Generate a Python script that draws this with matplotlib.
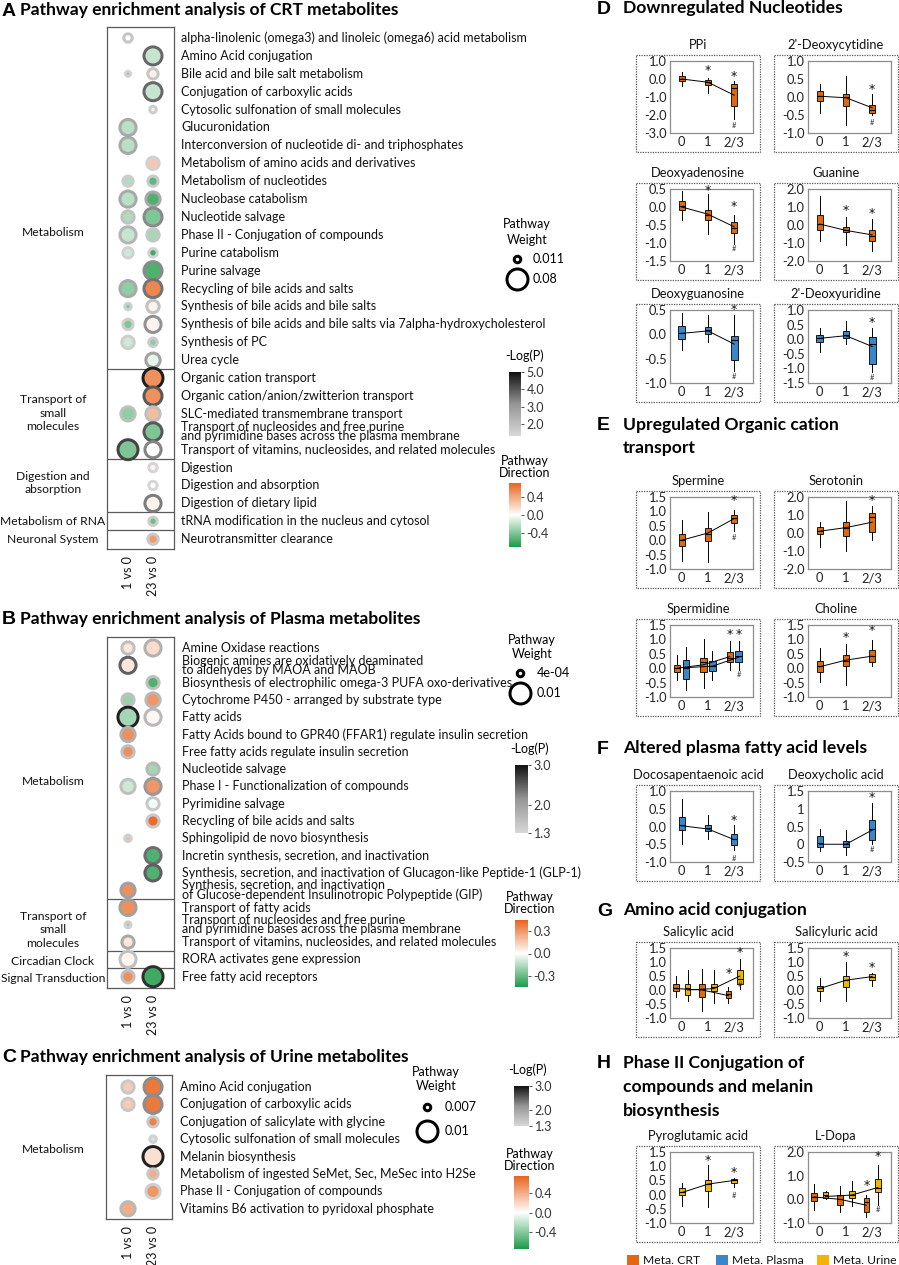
import numpy as np
import matplotlib
matplotlib.use("Agg")
import matplotlib.pyplot as plt
import matplotlib.transforms as mtransforms
from matplotlib.colors import LinearSegmentedColormap, Normalize
from matplotlib.cm import ScalarMappable
from matplotlib.patches import Rectangle

nan = np.nan
plt.rcParams['font.family'] = ['Lato', 'DejaVu Sans']

# ======================= DATA: Panel A (CRT) =======================
A_PATHWAYS = [
    "alpha-linolenic (omega3) and linoleic (omega6) acid metabolism",
    "Amino Acid conjugation",
    "Bile acid and bile salt metabolism",
    "Conjugation of carboxylic acids",
    "Cytosolic sulfonation of small molecules",
    "Glucuronidation",
    "Interconversion of nucleotide di- and triphosphates",
    "Metabolism of amino acids and derivatives",
    "Metabolism of nucleotides",
    "Nucleobase catabolism",
    "Nucleotide salvage",
    "Phase II - Conjugation of compounds",
    "Purine catabolism",
    "Purine salvage",
    "Recycling of bile acids and salts",
    "Synthesis of bile acids and bile salts",
    "Synthesis of bile acids and bile salts via 7alpha-hydroxycholesterol",
    "Synthesis of PC",
    "Urea cycle",
    "Organic cation transport",
    "Organic cation/anion/zwitterion transport",
    "SLC-mediated transmembrane transport",
    "Transport of nucleosides and free purine\nand pyrimidine bases across the plasma membrane",
    "Transport of vitamins, nucleosides, and related molecules",
    "Digestion",
    "Digestion and absorption",
    "Digestion of dietary lipid",
    "tRNA modification in the nucleus and cytosol",
    "Neurotransmitter clearance",
]
A_GROUPS = ["Metabolism", "Transport of\nsmall\nmolecules", "Digestion and\nabsorption",
            "Metabolism of RNA", "Neuronal System"]
A_GROUP_SIZES = [19, 5, 3, 1, 1]
A_W_1 = [0.020, nan, 0.004, nan, nan, 0.057, 0.057, nan, 0.029, 0.057, 0.039, 0.057, 0.029, nan,
         0.057, 0.011, 0.029, 0.039, nan, nan, nan, 0.048, nan, 0.075, nan, nan, nan, nan, nan]
A_W_23 = [nan, 0.066, 0.029, 0.066, 0.011, nan, nan, 0.039, 0.029, 0.048, 0.066, 0.039, 0.020, 0.066,
          0.066, 0.039, 0.057, 0.020, 0.048, 0.075, 0.066, 0.048, 0.066, 0.057, 0.020, 0.020, 0.057,
          0.020, 0.029]
A_P_1 = [1.8, nan, 1.5, nan, nan, 2.6, 2.6, nan, 1.6, 2.6, 1.9, 2.3, 1.5, nan, 2.6, 1.5, 1.6, 1.6,
         nan, nan, nan, 2.0, nan, 4.3, nan, nan, nan, nan, nan]
A_P_23 = [nan, 3.8, 1.8, 3.8, 1.6, nan, nan, 1.5, 1.7, 2.6, 3.3, 1.8, 1.5, 3.3, 3.6, 1.9, 3.2, 1.7,
          2.8, 4.8, 4.0, 2.0, 4.0, 3.4, 1.4, 1.35, 3.5, 1.6, 1.7]
A_D_1 = [0.0, nan, -0.4, nan, nan, -0.22, -0.22, nan, -0.25, -0.22, -0.25, -0.18, -0.15, nan, -0.35,
         -0.4, -0.4, -0.15, nan, nan, nan, -0.35, nan, -0.4, nan, nan, nan, nan, nan]
A_D_23 = [nan, -0.18, 0.05, -0.18, 0.05, nan, nan, 0.25, -0.5, -0.55, -0.4, -0.28, -0.6, -0.55, 0.55,
          0.05, 0.05, -0.35, -0.08, 0.5, 0.5, 0.3, -0.4, 0.0, 0.05, 0.02, 0.05, -0.45, 0.45]
A_WEIGHT_LEGEND = [0.011, 0.08]

# ======================= DATA: Panel B (Plasma) =======================
B_PATHWAYS = [
    "Amine Oxidase reactions",
    "Biogenic amines are oxidatively deaminated\nto aldehydes by MAOA and MAOB",
    "Biosynthesis of electrophilic omega-3 PUFA oxo-derivatives",
    "Cytochrome P450 - arranged by substrate type",
    "Fatty acids",
    "Fatty Acids bound to GPR40 (FFAR1) regulate insulin secretion",
    "Free fatty acids regulate insulin secretion",
    "Nucleotide salvage",
    "Phase I - Functionalization of compounds",
    "Pyrimidine salvage",
    "Recycling of bile acids and salts",
    "Sphingolipid de novo biosynthesis",
    "Incretin synthesis, secretion, and inactivation",
    "Synthesis, secretion, and inactivation of Glucagon-like Peptide-1 (GLP-1)",
    "Synthesis, secretion, and inactivation\nof Glucose-dependent Insulinotropic Polypeptide (GIP)",
    "Transport of fatty acids",
    "Transport of nucleosides and free purine\nand pyrimidine bases across the plasma membrane",
    "Transport of vitamins, nucleosides, and related molecules",
    "RORA activates gene expression",
    "Free fatty acid receptors",
]
B_GROUPS = ["Metabolism", "Transport of\nsmall\nmolecules", "Circadian Clock", "Signal Transduction"]
B_GROUP_SIZES = [15, 3, 1, 1]
B_W_1 = [0.0042, 0.0068, nan, 0.0042, 0.0094, 0.0055, 0.0042, nan, 0.0055, nan, nan, 0.0004, nan,
         nan, 0.0055, 0.0068, 0.0001, 0.0042, 0.0068, 0.0042]
B_W_23 = [0.0068, nan, 0.0042, 0.0055, 0.0068, nan, nan, 0.0042, 0.0068, 0.0042, 0.0042, nan, 0.0068,
          0.0068, nan, nan, nan, nan, nan, 0.0094]
B_P_1 = [1.6, 2.5, nan, 1.6, 2.9, 1.8, 1.6, nan, 1.6, nan, nan, 1.4, nan, nan, 2.0, 2.0, 1.4, 1.9,
         1.6, 1.6]
B_P_23 = [1.8, nan, 1.6, 1.7, 1.7, nan, nan, 1.7, 2.1, 1.5, 1.5, nan, 2.4, 2.5, nan, nan, nan, nan,
          nan, 2.8]
B_D_1 = [0.07, 0.07, nan, -0.2, -0.18, 0.32, 0.32, nan, -0.1, nan, nan, 0.2, nan, nan, 0.32, 0.32,
         -0.2, 0.07, 0.03, 0.32]
B_D_23 = [0.1, nan, -0.35, 0.3, 0.02, nan, nan, -0.18, 0.3, -0.02, 0.42, nan, -0.35, -0.35, nan, nan,
          nan, nan, nan, -0.38]
B_WEIGHT_LEGEND = [0.0004, 0.01]

# ======================= DATA: Panel C (Urine) =======================
C_PATHWAYS = [
    "Amino Acid conjugation",
    "Conjugation of carboxylic acids",
    "Conjugation of salicylate with glycine",
    "Cytosolic sulfonation of small molecules",
    "Melanin biosynthesis",
    "Metabolism of ingested SeMet, Sec, MeSec into H2Se",
    "Phase II - Conjugation of compounds",
    "Vitamins B6 activation to pyridoxal phosphate",
]
C_GROUPS = ["Metabolism"]
C_GROUP_SIZES = [8]
C_W_1 = [0.0082, 0.0082, nan, nan, nan, nan, nan, 0.0086]
C_W_23 = [0.0094, 0.0094, 0.0078, 0.0070, 0.0098, 0.0078, 0.0086, nan]
C_P_1 = [1.5, 1.5, nan, nan, nan, nan, nan, 1.7]
C_P_23 = [2.2, 2.2, 1.5, 1.4, 2.9, 1.5, 1.4, nan]
C_D_1 = [0.25, 0.25, nan, nan, nan, nan, nan, 0.4]
C_D_23 = [0.65, 0.65, 0.6, -0.15, 0.15, 0.4, 0.5, nan]
C_WEIGHT_LEGEND = [0.007, 0.01]

COMPARISONS = ["1 vs 0", "23 vs 0"]

# ======================= DATA: box plots (whislo, q1, med, q3, whishi) =======================
GROUPS_X = ["0", "1", "2/3"]

PPI_CRT = [[-0.4, -0.1, 0.0, 0.15, 0.4], [-0.8, -0.32, -0.18, -0.03, 0.08], [-2.2, -1.5, -0.5, -0.3, -0.1]]
PPI_CRT_MEAN = [0.0, -0.18, -0.9]
PPI_STAR = [nan, 0.45, 0.15]
PPI_HASH = [nan, nan, -2.6]
PPI_TICKS = [-3.0, -2.0, -1.0, 0.0, 1.0]

DCYT_CRT = [[-0.44, -0.1, 0.04, 0.18, 0.35], [-0.77, -0.25, -0.01, 0.07, 0.58], [-0.49, -0.44, -0.35, -0.22, 0.07]]
DCYT_CRT_MEAN = [0.02, -0.02, -0.3]
DCYT_STAR = [nan, nan, 0.21]
DCYT_HASH = [nan, nan, -0.72]
DCYT_TICKS = [-1.0, -0.5, 0.0, 0.5, 1.0]

DADE_CRT = [[-0.37, -0.09, 0.03, 0.18, 0.44], [-0.76, -0.37, -0.23, -0.09, 0.35], [-1.04, -0.71, -0.57, -0.43, -0.23]]
DADE_CRT_MEAN = [0.0, -0.2, -0.55]
DADE_STAR = [nan, 0.47, 0.02]
DADE_HASH = [nan, nan, -1.15]
DADE_TICKS = [-1.5, -1.0, -0.5, 0.0, 0.5]

GUAN_CRT = [[-0.9, -0.3, 0.05, 0.55, 1.6], [-1.1, -0.4, -0.25, -0.1, 0.45], [-1.45, -0.9, -0.6, -0.3, 0.35]]
GUAN_CRT_MEAN = [0.05, -0.3, -0.55]
GUAN_STAR = [nan, 0.8, 0.65]
GUAN_HASH = [nan, nan, nan]
GUAN_TICKS = [-2.0, -1.0, 0.0, 1.0, 2.0]

DGUO_PLASMA = [[-0.33, -0.1, 0.02, 0.18, 0.44], [-0.16, 0.0, 0.08, 0.16, 0.4], [-0.75, -0.53, -0.12, -0.04, 0.39]]
DGUO_PLASMA_MEAN = [0.02, 0.07, -0.2]
DGUO_STAR = [nan, nan, 0.5]
DGUO_HASH = [nan, nan, -0.86]
DGUO_TICKS = [-1.0, -0.5, 0.0, 0.5]

DURI_PLASMA = [[-0.44, -0.08, 0.05, 0.16, 0.4], [-0.17, 0.05, 0.16, 0.29, 0.63], [-1.13, -0.86, -0.17, 0.09, 0.4]]
DURI_PLASMA_MEAN = [0.03, 0.12, -0.25]
DURI_STAR = [nan, nan, 0.58]
DURI_HASH = [nan, nan, -1.3]
DURI_TICKS = [-1.5, -1.0, -0.5, 0.0, 0.5, 1.0]

SPERMINE_CRT = [[-0.72, -0.2, 0.01, 0.2, 0.7], [-0.76, -0.03, 0.2, 0.42, 0.98], [0.32, 0.6, 0.77, 0.88, 1.05]]
SPERMINE_CRT_MEAN = [0.0, 0.25, 0.75]
SPERMINE_STAR = [nan, nan, 1.38]
SPERMINE_HASH = [nan, nan, 0.08]
SPERMINE_TICKS = [-1.0, -0.5, 0.0, 0.5, 1.0, 1.5]

SEROTONIN_CRT = [[-0.75, -0.08, 0.13, 0.35, 0.6], [-1.0, -0.15, 0.3, 0.6, 1.8], [-0.4, 0.04, 0.9, 1.1, 1.5]]
SEROTONIN_CRT_MEAN = [0.1, 0.3, 0.6]
SEROTONIN_STAR = [nan, nan, 1.8]
SEROTONIN_HASH = [nan, nan, nan]
SEROTONIN_TICKS = [-2.0, -1.0, 0.0, 1.0, 2.0]

SPERMIDINE_CRT = [[-0.4, -0.12, 0.0, 0.12, 0.45], [-0.68, -0.14, 0.2, 0.37, 1.0], [-0.05, 0.2, 0.37, 0.55, 0.95]]
SPERMIDINE_CRT_MEAN = [0.0, 0.12, 0.4]
SPERMIDINE_CRT_STAR = [nan, nan, 1.18]
SPERMIDINE_PLASMA = [[-0.75, -0.36, 0.02, 0.27, 0.72], [-0.4, -0.1, 0.08, 0.25, 0.6], [-0.05, 0.2, 0.42, 0.6, 0.93]]
SPERMIDINE_PLASMA_MEAN = [0.02, 0.07, 0.38]
SPERMIDINE_PLASMA_STAR = [nan, nan, 1.18]
SPERMIDINE_PLASMA_HASH = [nan, nan, -0.22]
SPERMIDINE_TICKS = [-1.0, -0.5, 0.0, 0.5, 1.0, 1.5]

CHOLINE_CRT = [[-0.48, -0.12, 0.06, 0.24, 0.7], [-0.6, 0.06, 0.24, 0.45, 0.85], [0.06, 0.2, 0.41, 0.63, 0.98]]
CHOLINE_CRT_MEAN = [0.05, 0.28, 0.42]
CHOLINE_STAR = [nan, 1.05, 1.3]
CHOLINE_HASH = [nan, nan, nan]
CHOLINE_TICKS = [-1.0, -0.5, 0.0, 0.5, 1.0, 1.5]

DPA_PLASMA = [[-0.5, -0.1, 0.03, 0.27, 0.77], [-0.35, -0.13, -0.05, 0.03, 0.33], [-0.66, -0.52, -0.35, -0.2, 0.03]]
DPA_PLASMA_MEAN = [0.02, -0.07, -0.37]
DPA_STAR = [nan, nan, 0.17]
DPA_HASH = [nan, nan, -0.9]
DPA_TICKS = [-1.0, -0.5, 0.0, 0.5, 1.0]

DCA_PLASMA = [[-0.18, -0.07, 0.04, 0.22, 0.44], [-0.3, -0.07, 0.0, 0.1, 0.4], [0.0, 0.13, 0.44, 0.69, 1.15]]
DCA_PLASMA_MEAN = [0.0, 0.0, 0.4]
DCA_STAR = [nan, nan, 1.33]
DCA_HASH = [nan, nan, -0.14]
DCA_TICKS = [-0.5, 0.0, 0.5, 1.0, 1.5]
DCA_TICKLABELS = ["-0.5", "0", "0.5", "1", "1.5"]

SALICYLIC_CRT = [[-0.25, -0.03, 0.07, 0.2, 0.5], [-0.75, -0.25, 0.03, 0.2, 0.75], [-0.45, -0.3, -0.15, -0.05, 0.1]]
SALICYLIC_CRT_MEAN = [0.05, 0.0, -0.2]
SALICYLIC_CRT_STAR = [nan, nan, 0.6]
SALICYLIC_URINE = [[-0.38, -0.18, 0.07, 0.2, 0.7], [-0.45, -0.03, 0.1, 0.23, 0.7], [0.04, 0.23, 0.4, 0.73, 1.1]]
SALICYLIC_URINE_MEAN = [0.0, 0.05, 0.5]
SALICYLIC_URINE_STAR = [nan, nan, 1.35]
SALICYLIC_URINE_HASH = [nan, nan, 0.2]
SALICYLIC_TICKS = [-1.0, -0.5, 0.0, 0.5, 1.0, 1.5]

SALICYLURIC_URINE = [[-0.4, -0.05, 0.07, 0.15, 0.43], [-0.4, 0.12, 0.36, 0.5, 1.0], [0.15, 0.37, 0.48, 0.57, 0.6]]
SALICYLURIC_URINE_MEAN = [0.05, 0.35, 0.48]
SALICYLURIC_STAR = [nan, 1.2, 0.8]
SALICYLURIC_HASH = [nan, nan, nan]
SALICYLURIC_TICKS = [-1.0, -0.5, 0.0, 0.5, 1.0, 1.5]

PYROGLU_URINE = [[-0.4, -0.02, 0.1, 0.22, 0.42], [-0.45, 0.14, 0.36, 0.5, 1.03], [0.26, 0.4, 0.5, 0.55, 0.6]]
PYROGLU_URINE_MEAN = [0.07, 0.37, 0.5]
PYROGLU_STAR = [nan, 1.2, 0.78]
PYROGLU_HASH = [nan, nan, -0.02]
PYROGLU_TICKS = [-1.0, -0.5, 0.0, 0.5, 1.0, 1.5]

LDOPA_CRT = [[-0.45, -0.05, 0.1, 0.25, 0.65], [-0.55, -0.25, 0.0, 0.2, 0.57], [-0.75, -0.55, -0.1, 0.05, 0.2]]
LDOPA_CRT_MEAN = [0.1, 0.0, -0.25]
LDOPA_CRT_STAR = [nan, nan, 0.6]
LDOPA_URINE = [[0.0, 0.05, 0.17, 0.3, 0.37], [-0.3, 0.06, 0.2, 0.37, 0.78], [-0.25, 0.3, 0.5, 0.85, 1.45]]
LDOPA_URINE_MEAN = [0.12, 0.18, 0.5]
LDOPA_URINE_STAR = [nan, nan, 1.8]
LDOPA_URINE_HASH = [nan, nan, -0.45]
LDOPA_TICKS = [-1.0, 0.0, 1.0, 2.0]

LEGEND_LABELS = ["Meta. CRT", "Meta. Plasma", "Meta. Urine"]

# ======================= STYLE =======================
W, H = 899, 1265
CRT_COLOR = '#E2670F'
PLASMA_COLOR = '#3A86C8'
URINE_COLOR = '#F3B300'
FS_ROW = 9.0
FS_GROUP = 8.7
FS_TITLE_L = 12.5
FS_TITLE_R = 12.6
FS_BOX = 9.3
EDGE_PX = 3.0
GREY_CMAP = LinearSegmentedColormap.from_list('g', ['#d8d8d8', '#959595', '#111111'])
DIR_CMAP = LinearSegmentedColormap.from_list('d', ['#1E9A48', '#ffffff', '#E8641E'])

fig = plt.figure(figsize=(W / 100, H / 100), dpi=100)
ov = fig.add_axes([0, 0, 1, 1], zorder=5)
ov.set_xlim(0, W)
ov.set_ylim(H, 0)
ov.axis('off')
ov.patch.set_alpha(0)


def px_axes(x0, y0, x1, y1):
    return fig.add_axes([x0 / W, 1 - y1 / H, (x1 - x0) / W, (y1 - y0) / H])


def T(x, y, s, **kw):
    kw.setdefault('va', 'center')
    return ov.text(x, y, s, **kw)


def wdiam(w, wref):
    return 9.5 + (np.asarray(w, float) - wref[0]) / (wref[1] - wref[0]) * 14.5


COLX = (128, 153)


def bubble_panel(box, row0, rstep, names, groups, sizes, grp_rows, wcols, pcols, dcols,
                 wref, pnorm, dnorm, label_x):
    x0, y0, x1, y1 = box
    ax = px_axes(x0, y0, x1, y1)
    sx = COLX[1] - COLX[0]
    ax.set_xlim((x0 - COLX[0]) / sx, (x1 - COLX[0]) / sx)
    ax.set_ylim((y1 - row0) / rstep, (y0 - row0) / rstep)
    ax.set_xticks([])
    ax.set_yticks([])
    for sp in ax.spines.values():
        sp.set_color('#595959')
        sp.set_linewidth(0.9)
    n = len(names)
    rows = np.arange(n)
    for j, (w, p, d) in enumerate(zip(wcols, pcols, dcols)):
        w = np.asarray(w, float)
        p = np.asarray(p, float)
        d = np.asarray(d, float)
        m = ~np.isnan(w)
        dout = wdiam(w[m], wref)
        dmark = np.clip(dout - EDGE_PX, 2.5, None)
        ax.scatter(np.full(m.sum(), j), rows[m], s=(dmark * 0.72) ** 2,
                   color=DIR_CMAP(dnorm(d[m])), edgecolors=GREY_CMAP(pnorm(p[m])),
                   linewidths=EDGE_PX * 0.72, zorder=3, clip_on=False)
    for b in np.cumsum(sizes)[:-1] - 0.5:
        ax.axhline(b, color='#595959', lw=0.9)
    tr = mtransforms.blended_transform_factory(ax.transAxes, ax.transData)
    fx = lambda px: (px - x0) / (x1 - x0)
    for i, nm in enumerate(names):
        ax.text(fx(label_x), i, nm, transform=tr, ha='left', va='center', fontsize=FS_ROW,
                linespacing=0.72, clip_on=False, color='#111')
    for g, r in zip(groups, grp_rows):
        ax.text(fx(53), r, g, transform=tr, ha='center', va='center', fontsize=FS_GROUP,
                linespacing=1.25, multialignment='center', color='#111')
    tr2 = mtransforms.blended_transform_factory(ax.transData, ax.transAxes)
    for j, lab in enumerate(COMPARISONS):
        ax.text(j, -7 / (y1 - y0), lab, transform=tr2, rotation=90, ha='center', va='top',
                fontsize=FS_ROW, color='#111')
    return ax


def colorbar(box, cmap, norm, ticks, labels):
    cax = px_axes(*box)
    cb = fig.colorbar(ScalarMappable(norm=norm, cmap=cmap), cax=cax, ticks=ticks)
    cb.outline.set_visible(False)
    cb.set_ticklabels(labels)
    cax.tick_params(labelsize=9, length=2.5, width=0.6, pad=1.5, colors='#333')
    return cb


def size_legend(cx, wref, xc, ys, lx, labels, head_y):
    T(xc, head_y, "Pathway\nWeight", ha='center', fontsize=FS_ROW, linespacing=1.3)
    for w, y, lab in zip(wref, ys, labels):
        d = wdiam([w], wref)[0] - EDGE_PX
        ov.scatter([cx], [y], s=(d * 0.72) ** 2, facecolor='white', edgecolor='black',
                   linewidths=EDGE_PX * 0.72)
        T(lx, y, lab, ha='left', fontsize=FS_ROW)


# ---------------- Panel A ----------------
T(2, 11, 'A', fontsize=14, fontweight='bold', family='Liberation Sans')
T(20, 10, 'Pathway enrichment analysis of CRT metabolites', fontsize=FS_TITLE_L, fontweight='bold')
A_PN = Normalize(1.3, 5.0)
A_DN = Normalize(-0.71, 0.71)
bubble_panel((107, 27, 174, 549), 38, 17.9, A_PATHWAYS, A_GROUPS, A_GROUP_SIZES,
             [10.84, 20.95, 24.86, 27, 28], [A_W_1, A_W_23], [A_P_1, A_P_23], [A_D_1, A_D_23],
             A_WEIGHT_LEGEND, A_PN, A_DN, 181)
size_legend(517, A_WEIGHT_LEGEND, 527, [259, 279], 533, ["0.011", "0.08"], 232)
T(525, 356, "-Log(P)", ha='center', fontsize=FS_ROW)
colorbar((509, 372, 521, 436), GREY_CMAP, A_PN, [2, 3, 4, 5], ["2.0", "3.0", "4.0", "5.0"])
T(525, 467, "Pathway\nDirection", ha='center', fontsize=FS_ROW, linespacing=1.0)
colorbar((509, 483, 521, 547), DIR_CMAP, A_DN, [-0.4, 0, 0.4], ["-0.4", "0.0", "0.4"])

# ---------------- Panel B ----------------
T(2, 620, 'B', fontsize=14, fontweight='bold', family='Liberation Sans')
T(20, 619, 'Pathway enrichment analysis of Plasma metabolites', fontsize=FS_TITLE_L, fontweight='bold')
B_PN = Normalize(1.3, 3.0)
B_DN = Normalize(-0.45, 0.45)
bubble_panel((107, 637, 174, 988), 648, 17.3, B_PATHWAYS, B_GROUPS, B_GROUP_SIZES,
             [7.7, 16.3, 18.15, 19.1], [B_W_1, B_W_23], [B_P_1, B_P_23], [B_D_1, B_D_23],
             B_WEIGHT_LEGEND, B_PN, B_DN, 182)
size_legend(520, B_WEIGHT_LEGEND, 532, [673, 693], 537, ["4e-04", "0.01"], 647)
T(530, 749, "-Log(P)", ha='center', fontsize=FS_ROW)
colorbar((515, 765, 528, 833), GREY_CMAP, B_PN, [1.3, 2, 3], ["1.3", "2.0", "3.0"])
T(530, 903, "Pathway\nDirection", ha='center', fontsize=FS_ROW, linespacing=1.0)
colorbar((515, 920, 528, 987), DIR_CMAP, B_DN, [-0.3, 0, 0.3], ["-0.3", "0.0", "0.3"])

# ---------------- Panel C ----------------
T(2, 1058, 'C', fontsize=14, fontweight='bold', family='Liberation Sans')
T(20, 1057, 'Pathway enrichment analysis of Urine metabolites', fontsize=FS_TITLE_L, fontweight='bold')
C_PN = Normalize(1.3, 3.0)
C_DN = Normalize(-0.75, 0.75)
bubble_panel((106, 1075, 172, 1219), 1087, 17.4, C_PATHWAYS, C_GROUPS, C_GROUP_SIZES,
             [3.6], [C_W_1, C_W_23], [C_P_1, C_P_23], [C_D_1, C_D_23],
             C_WEIGHT_LEGEND, C_PN, C_DN, 180)
size_legend(427, C_WEIGHT_LEGEND, 436, [1107, 1131], 445, ["0.007", "0.01"], 1079)
T(528, 1070, "-Log(P)", ha='center', fontsize=FS_ROW)
colorbar((514, 1086, 529, 1126), GREY_CMAP, C_PN, [1.3, 2, 3], ["1.3", "2.0", "3.0"])
T(530, 1160, "Pathway\nDirection", ha='center', fontsize=FS_ROW, linespacing=1.0)
colorbar((514, 1176, 529, 1249), DIR_CMAP, C_DN, [-0.4, 0, 0.4], ["-0.4", "0.0", "0.4"])


# ---------------- Box plot panels ----------------
def box_panel(frame, title, ticks, series, ticklabels=None):
    fx0, fy0, fx1, fy1 = frame
    ov.add_patch(Rectangle((fx0, fy0), fx1 - fx0, fy1 - fy0, fill=False,
                           ls=(0, (1, 1)), lw=0.9, ec='#555'))
    T((fx0 + fx1) / 2, fy0 - 10, title, ha='center', fontsize=FS_BOX, color='#111')
    ax = px_axes(fx0 + 34, fy0 + 6, fx1 - 7, fy1 - 19)
    for color, stats, means, offset, width, stars, hashes in series:
        pos = np.arange(3) + offset
        st = [dict(whislo=s[0], q1=s[1], med=s[2], q3=s[3], whishi=s[4], fliers=[]) for s in stats]
        ax.bxp(st, positions=pos, widths=width, patch_artist=True, showfliers=False,
               showcaps=False, manage_ticks=False,
               boxprops=dict(facecolor=color, edgecolor='black', linewidth=0.6),
               medianprops=dict(color='black', linewidth=0.8),
               whiskerprops=dict(color='black', linewidth=0.7))
        ax.plot(pos, means, color='black', lw=0.7, zorder=4)
        for p, y in zip(pos, stars):
            if not np.isnan(y):
                ax.text(p, y, '*', ha='center', va='center', fontsize=9, color='#111',
                        family='DejaVu Sans')
        for p, y in zip(pos, hashes):
            if not np.isnan(y):
                ax.text(p, y, '#', ha='center', va='center', fontsize=5.5, color='#333')
    ax.set_xlim(-0.45, 2.72)
    ax.set_ylim(ticks[0], ticks[-1])
    ax.set_yticks(ticks)
    ax.set_yticklabels(ticklabels if ticklabels else ["%.1f" % t for t in ticks])
    ax.set_xticks(range(3))
    ax.set_xticklabels(GROUPS_X)
    ax.tick_params(length=0, labelsize=FS_BOX, pad=2.5, colors='#222')
    for sp in ax.spines.values():
        sp.set_color('#8c8c8c')
        sp.set_linewidth(0.9)
    return ax


NONE3 = [nan, nan, nan]
LX = (636, 760)
RX = (774, 898)

T(597, 9, 'D', fontsize=14, fontweight='bold', family='Liberation Sans')
T(623, 8, 'Downregulated Nucleotides', fontsize=FS_TITLE_R, fontweight='bold')
box_panel((LX[0], 55, LX[1], 152), 'PPi', PPI_TICKS,
          [(CRT_COLOR, PPI_CRT, PPI_CRT_MEAN, 0, 0.22, PPI_STAR, PPI_HASH)])
box_panel((RX[0], 55, RX[1], 152), "2'-Deoxycytidine", DCYT_TICKS,
          [(CRT_COLOR, DCYT_CRT, DCYT_CRT_MEAN, 0, 0.22, DCYT_STAR, DCYT_HASH)])
box_panel((LX[0], 183, LX[1], 280), 'Deoxyadenosine', DADE_TICKS,
          [(CRT_COLOR, DADE_CRT, DADE_CRT_MEAN, 0, 0.22, DADE_STAR, DADE_HASH)])
box_panel((RX[0], 183, RX[1], 280), 'Guanine', GUAN_TICKS,
          [(CRT_COLOR, GUAN_CRT, GUAN_CRT_MEAN, 0, 0.22, GUAN_STAR, GUAN_HASH)])
box_panel((LX[0], 304, LX[1], 402), 'Deoxyguanosine', DGUO_TICKS,
          [(PLASMA_COLOR, DGUO_PLASMA, DGUO_PLASMA_MEAN, 0, 0.26, DGUO_STAR, DGUO_HASH)])
box_panel((RX[0], 304, RX[1], 402), "2'-Deoxyuridine", DURI_TICKS,
          [(PLASMA_COLOR, DURI_PLASMA, DURI_PLASMA_MEAN, 0, 0.26, DURI_STAR, DURI_HASH)])

T(597, 426, 'E', fontsize=14, fontweight='bold', family='Liberation Sans')
T(623, 425, 'Upregulated Organic cation', fontsize=FS_TITLE_R, fontweight='bold')
T(623, 448, 'transport', fontsize=FS_TITLE_R, fontweight='bold')
box_panel((LX[0], 491, LX[1], 588), 'Spermine', SPERMINE_TICKS,
          [(CRT_COLOR, SPERMINE_CRT, SPERMINE_CRT_MEAN, 0, 0.24, SPERMINE_STAR, SPERMINE_HASH)])
box_panel((RX[0], 491, RX[1], 588), 'Serotonin', SEROTONIN_TICKS,
          [(CRT_COLOR, SEROTONIN_CRT, SEROTONIN_CRT_MEAN, 0, 0.24, SEROTONIN_STAR, SEROTONIN_HASH)])
box_panel((LX[0], 619, LX[1], 716), 'Spermidine', SPERMIDINE_TICKS,
          [(CRT_COLOR, SPERMIDINE_CRT, SPERMIDINE_CRT_MEAN, -0.17, 0.24, SPERMIDINE_CRT_STAR, NONE3),
           (PLASMA_COLOR, SPERMIDINE_PLASMA, SPERMIDINE_PLASMA_MEAN, 0.17, 0.24,
            SPERMIDINE_PLASMA_STAR, SPERMIDINE_PLASMA_HASH)])
box_panel((RX[0], 619, RX[1], 716), 'Choline', CHOLINE_TICKS,
          [(CRT_COLOR, CHOLINE_CRT, CHOLINE_CRT_MEAN, 0, 0.24, CHOLINE_STAR, CHOLINE_HASH)])

T(597, 749, 'F', fontsize=14, fontweight='bold', family='Liberation Sans')
T(623, 748, 'Altered plasma fatty acid levels', fontsize=FS_TITLE_R, fontweight='bold')
box_panel((LX[0], 785, LX[1], 881), 'Docosapentaenoic acid', DPA_TICKS,
          [(PLASMA_COLOR, DPA_PLASMA, DPA_PLASMA_MEAN, 0, 0.24, DPA_STAR, DPA_HASH)])
box_panel((RX[0], 785, RX[1], 881), 'Deoxycholic acid', DCA_TICKS,
          [(PLASMA_COLOR, DCA_PLASMA, DCA_PLASMA_MEAN, 0, 0.24, DCA_STAR, DCA_HASH)],
          ticklabels=DCA_TICKLABELS)

T(597, 911, 'G', fontsize=14, fontweight='bold', family='Liberation Sans')
T(623, 910, 'Amino acid conjugation', fontsize=FS_TITLE_R, fontweight='bold')
box_panel((LX[0], 942, LX[1], 1037), 'Salicylic acid', SALICYLIC_TICKS,
          [(CRT_COLOR, SALICYLIC_CRT, SALICYLIC_CRT_MEAN, -0.22, 0.22, SALICYLIC_CRT_STAR, NONE3),
           (URINE_COLOR, SALICYLIC_URINE, SALICYLIC_URINE_MEAN, 0.22, 0.22,
            SALICYLIC_URINE_STAR, SALICYLIC_URINE_HASH)])
box_panel((RX[0], 942, RX[1], 1037), 'Salicyluric acid', SALICYLURIC_TICKS,
          [(URINE_COLOR, SALICYLURIC_URINE, SALICYLURIC_URINE_MEAN, 0, 0.24,
            SALICYLURIC_STAR, SALICYLURIC_HASH)])

T(597, 1064, 'H', fontsize=14, fontweight='bold', family='Liberation Sans')
T(623, 1063, 'Phase II Conjugation of', fontsize=FS_TITLE_R, fontweight='bold')
T(623, 1087, 'compounds and melanin', fontsize=FS_TITLE_R, fontweight='bold')
T(623, 1111, 'biosynthesis', fontsize=FS_TITLE_R, fontweight='bold')
box_panel((LX[0], 1146, LX[1], 1242), 'Pyroglutamic acid', PYROGLU_TICKS,
          [(URINE_COLOR, PYROGLU_URINE, PYROGLU_URINE_MEAN, 0, 0.24, PYROGLU_STAR, PYROGLU_HASH)])
box_panel((RX[0], 1146, RX[1], 1242), 'L-Dopa', LDOPA_TICKS,
          [(CRT_COLOR, LDOPA_CRT, LDOPA_CRT_MEAN, -0.22, 0.22, LDOPA_CRT_STAR, NONE3),
           (URINE_COLOR, LDOPA_URINE, LDOPA_URINE_MEAN, 0.22, 0.22, LDOPA_URINE_STAR, LDOPA_URINE_HASH)])

# bottom legend
for xs, col, lab in zip([627, 716, 817], [CRT_COLOR, PLASMA_COLOR, URINE_COLOR], LEGEND_LABELS):
    ov.add_patch(Rectangle((xs, 1255), 12, 11, facecolor=col, edgecolor='none'))
    T(xs + 16, 1260, lab, ha='left', fontsize=8.7, color='#111')

fig.savefig('out.png', dpi=100)
